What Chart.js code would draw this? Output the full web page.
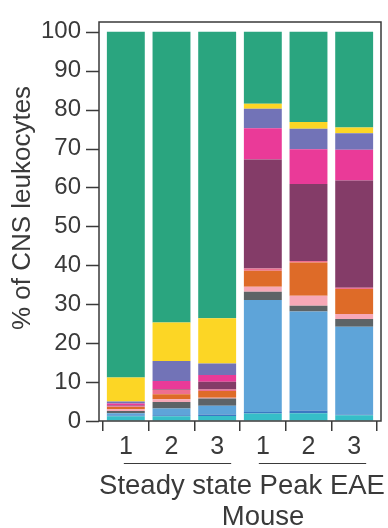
<!DOCTYPE html>
<html>
<head>
<meta charset="utf-8">
<script src="https://cdn.jsdelivr.net/npm/chart.js@4"></script>
<style>
  html, body { margin: 0; padding: 0; background: #fff; }
  canvas { display: block; }
</style>
</head>
<body>
<canvas id="c" width="388" height="528"></canvas>
<script>
// Mice: three at steady state, three at peak EAE
const mice = ['1', '2', '3', '1', '2', '3'];
const groups = ['Steady state', 'Peak EAE'];

// Share of CNS leukocytes (%) per population, stacked bottom to top
const cyanPop      = [1.2, 1.2, 1.3, 1.9, 2.0, 1.5];
const darkBluePop  = [0.2, 0.3, 0.4, 0.4, 0.7, 0.2];
const lightBluePop = [0.6, 1.7, 2.2, 28.8, 25.4, 22.5];
const greyPop      = [0.6, 1.7, 1.9, 2.1, 1.5, 2.0];
const lightPinkPop = [0.4, 0.7, 0.2, 1.3, 2.6, 1.3];
const orangePop    = [0.6, 1.3, 1.7, 4.1, 8.5, 6.4];
const rosePop      = [0.2, 1.1, 0.4, 0.6, 0.4, 0.3];
const maroonPop    = [0.2, 0.2, 2.0, 28.0, 19.8, 27.6];
const magentaPop   = [0.5, 2.1, 1.7, 8.0, 8.9, 7.9];
const slatePop     = [0.5, 5.1, 3.0, 5.0, 5.3, 4.2];
const yellowPop    = [6.2, 9.9, 11.6, 1.3, 1.7, 1.5];
const greenPop     = [88.8, 74.7, 73.6, 18.5, 23.2, 24.6];

const yTicks = [0, 10, 20, 30, 40, 50, 60, 70, 80, 90, 100];

const series = [
  { data: cyanPop,      color: '#36bec8' },
  { data: darkBluePop,  color: '#3b78c2' },
  { data: lightBluePop, color: '#5ea4d9' },
  { data: greyPop,      color: '#5d6366' },
  { data: lightPinkPop, color: '#f7a8b7' },
  { data: orangePop,    color: '#de6b28' },
  { data: rosePop,      color: '#ee6f90' },
  { data: maroonPop,    color: '#843c68' },
  { data: magentaPop,   color: '#ea3a98' },
  { data: slatePop,     color: '#7273b7' },
  { data: yellowPop,    color: '#fcd625' },
  { data: greenPop,     color: '#2aa57f' }
];

const FONT = '"Liberation Sans", Arial, sans-serif';
const INK = '#3a3a3a';
const GAP = 4;        // space between the frame and the first/last bar slot
const Y_TICK = 13;    // length of the y tick marks

const decorations = {
  id: 'decorations',
  afterDraw(chart) {
    const { ctx, chartArea: a, scales: { x, y } } = chart;
    const L = a.left - GAP, R = a.right + GAP;
    ctx.save();
    // frame round the plot
    ctx.strokeStyle = INK;
    ctx.lineWidth = 1.5;
    ctx.strokeRect(L, a.top, R - L, a.bottom - a.top);

    // y tick marks
    ctx.beginPath();
    y.ticks.forEach(t => {
      const py = Math.round(y.getPixelForValue(t.value)) + 0.5;
      ctx.moveTo(L - Y_TICK, py);
      ctx.lineTo(L, py);
    });
    ctx.stroke();

    // group underlines
    ctx.lineWidth = 1.2;
    ctx.beginPath();
    ctx.moveTo(x.getPixelForValue(0) - 2, 463.5);
    ctx.lineTo(x.getPixelForValue(2) + 14, 463.5);
    ctx.moveTo(x.getPixelForValue(3) - 4, 463.5);
    ctx.lineTo(x.getPixelForValue(5) + 12, 463.5);
    ctx.stroke();

    ctx.fillStyle = INK;
    ctx.textBaseline = 'middle';
    ctx.textAlign = 'center';
    ctx.font = '27.5px ' + FONT;
    ctx.fillText(groups.join(' '), (L + R) / 2 + 2, 486);
    ctx.fillText('Mouse', 263, 517);

    // y-axis title
    ctx.translate(23, 208);
    ctx.rotate(-Math.PI / 2);
    ctx.font = '26px ' + FONT;
    ctx.fillText('% of CNS leukocytes', 0, 0);
    ctx.restore();
  }
};

new Chart(document.getElementById('c'), {
  type: 'bar',
  data: {
    labels: mice,
    datasets: series.map(s => ({
      data: s.data,
      backgroundColor: s.color,
      borderWidth: 0,
      barPercentage: 0.83,
      categoryPercentage: 1.0
    }))
  },
  options: {
    responsive: false,
    devicePixelRatio: 1,
    animation: false,
    layout: { padding: { top: 22, right: 7 + GAP, left: 0, bottom: 0 } },
    plugins: { legend: { display: false }, tooltip: { enabled: false } },
    scales: {
      x: {
        stacked: true,
        afterFit(scale) { scale.height = 107; },
        grid: { drawOnChartArea: false, drawTicks: true, tickLength: 10, color: INK, lineWidth: 1.5 },
        border: { display: false },
        ticks: { color: INK, font: { family: FONT, size: 25 }, padding: 1, maxRotation: 0, autoSkip: false }
      },
      y: {
        stacked: true,
        min: 0,
        max: 102.5,
        afterFit(scale) { scale.width = 99 + GAP; },
        afterBuildTicks(scale) { scale.ticks = yTicks.map(v => ({ value: v })); },
        grid: { drawOnChartArea: false, drawTicks: true, tickLength: Y_TICK + GAP, color: 'rgba(0,0,0,0)' },
        border: { display: false },
        ticks: { color: INK, font: { family: FONT, size: 24 }, padding: 5 }
      }
    }
  },
  plugins: [decorations]
});
</script>
</body>
</html>
